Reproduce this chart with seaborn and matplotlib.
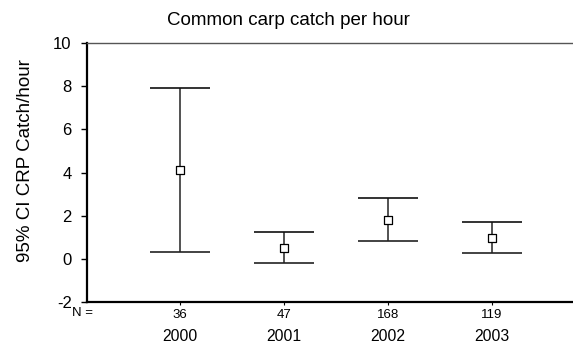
import matplotlib
matplotlib.use("Agg")
import matplotlib.pyplot as plt
import seaborn as sns
import pandas as pd

years = ["2000", "2001", "2002", "2003"]
n_values = [36, 47, 168, 119]
means = [4.10, 0.52, 1.81, 0.97]
upper = [7.90, 1.24, 2.84, 1.73]
lower = [0.31, -0.17, 0.83, 0.26]

df = pd.DataFrame({"year": years, "x": range(len(years)), "mean": means,
                   "upper": upper, "lower": lower, "n": n_values})

sns.set_theme(style="white")
plt.rcParams["font.family"] = ["Liberation Sans", "DejaVu Sans"]
plt.rcParams["text.color"] = "black"
plt.rcParams["xtick.color"] = "black"
plt.rcParams["ytick.color"] = "black"
plt.rcParams["axes.labelcolor"] = "black"

fig = plt.figure(figsize=(5.73, 3.45), dpi=100)
ax = fig.add_axes([0.1518, 0.1246, 0.8482, 0.7507])

cap = 0.29
ax.vlines(df["x"], df["lower"], df["upper"], color="#444444", lw=1.3, zorder=2)
ax.hlines(df["upper"], df["x"] - cap, df["x"] + cap, color="#111111", lw=1.2, zorder=2)
ax.hlines(df["lower"], df["x"] - cap, df["x"] + cap, color="#222222", lw=1.2, zorder=2)
sns.scatterplot(data=df, x="x", y="mean", marker="s", s=32, facecolor="white",
                edgecolor="black", linewidth=0.9, ax=ax, zorder=3, legend=False)

ax.set_xlim(-0.894, 3.78)
ax.set_ylim(-2, 10)
ax.set_yticks([-2, 0, 2, 4, 6, 8, 10])
ax.set_yticklabels(["-2", "0", "2", "4", "6", "8", "10"], fontsize=12)
ax.set_xticks(df["x"])
ax.set_xticklabels([str(n) for n in n_values], fontsize=9.5)
ax.tick_params(axis="y", which="both", left=True, length=4, width=1, pad=7)
ax.tick_params(axis="x", which="both", bottom=True, length=2, width=0.8, pad=3)
ax.set_xlabel("")
ax.set_ylabel("95% CI CRP Catch/hour", fontsize=13.5)
ax.yaxis.set_label_coords(-0.11, 0.548)

for side in ["left", "bottom", "top"]:
    ax.spines[side].set_visible(True)
    ax.spines[side].set_color("black")
ax.spines["left"].set_linewidth(1.6)
ax.spines["bottom"].set_linewidth(1.6)
ax.spines["top"].set_linewidth(1.0)
ax.spines["top"].set_color("#555555")
ax.spines["right"].set_visible(False)

trans = ax.get_xaxis_transform()
for xi, yr in zip(df["x"], years):
    ax.text(xi, -0.135, yr, transform=trans, ha="center", va="center", fontsize=11.3)
ax.text(-1.04, -0.043, "N =", transform=trans, ha="left", va="center", fontsize=9.5)

fig.text(0.5035, 0.942, "Common carp catch per hour", ha="center", va="center", fontsize=13.5)

fig.savefig("out.png", dpi=100)
